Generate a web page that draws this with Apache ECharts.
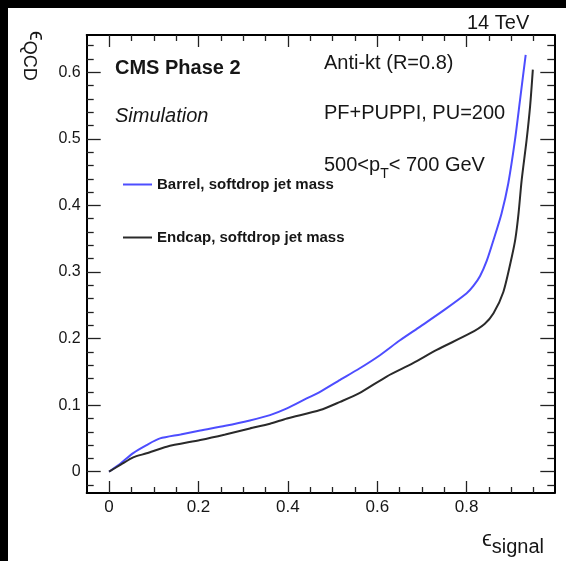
<!DOCTYPE html>
<html>
<head>
<meta charset="utf-8">
<script src="https://cdn.jsdelivr.net/npm/echarts@6/dist/echarts.min.js"></script>
<style>
  html, body { margin: 0; padding: 0; background: #fff; }
  #chart { width: 566px; height: 561px; }
</style>
</head>
<body>
<div id="chart"></div>
<script>
// ROC curves: QCD background efficiency vs signal efficiency
const seriesNames = ['Barrel, softdrop jet mass', 'Endcap, softdrop jet mass'];

const barrelSignalEff = [0, 0.027, 0.054, 0.084, 0.114, 0.16, 0.204, 0.26, 0.315, 0.36, 0.398, 0.442, 0.472, 0.517, 0.56, 0.606, 0.65, 0.696, 0.75, 0.80, 0.815, 0.83, 0.845, 0.86, 0.878, 0.893, 0.908, 0.92, 0.932];
const barrelQcdEff    = [0, 0.013, 0.028, 0.040, 0.050, 0.056, 0.062, 0.069, 0.077, 0.085, 0.095, 0.110, 0.120, 0.138, 0.155, 0.175, 0.197, 0.218, 0.243, 0.268, 0.279, 0.294, 0.317, 0.348, 0.388, 0.433, 0.498, 0.562, 0.626];

const endcapSignalEff = [0, 0.027, 0.054, 0.084, 0.129, 0.204, 0.26, 0.315, 0.36, 0.398, 0.472, 0.517, 0.56, 0.621, 0.68, 0.733, 0.808, 0.84, 0.86, 0.882, 0.901, 0.909, 0.916, 0.923, 0.934, 0.942, 0.948];
const endcapQcdEff    = [0, 0.011, 0.0216, 0.0276, 0.0376, 0.0476, 0.056, 0.065, 0.072, 0.080, 0.0926, 0.105, 0.118, 0.143, 0.163, 0.183, 0.208, 0.222, 0.238, 0.270, 0.323, 0.350, 0.388, 0.438, 0.498, 0.550, 0.604];

const xMajorTicks = [0, 0.2, 0.4, 0.6, 0.8];
const xMinorTicks = [0.05, 0.1, 0.15, 0.25, 0.3, 0.35, 0.45, 0.5, 0.55, 0.65, 0.7, 0.75, 0.85, 0.9, 0.95];
const yMajorTicks = [0, 0.1, 0.2, 0.3, 0.4, 0.5, 0.6];
const yMinorTicks = [-0.02, 0.02, 0.04, 0.06, 0.08, 0.12, 0.14, 0.16, 0.18, 0.22, 0.24, 0.26, 0.28,
                     0.32, 0.34, 0.36, 0.38, 0.42, 0.44, 0.46, 0.48, 0.52, 0.54, 0.56, 0.58, 0.62, 0.64];

const FONT = '"Liberation Sans", Arial, Helvetica, sans-serif';
const INK = '#161616';
const X_RANGE = [-0.05, 0.996];
const Y_RANGE = [-0.032, 0.656];

function pairs(xs, ys) { return xs.map((x, i) => [x, ys[i]]); }
function fmt(v) { return String(Number(v.toFixed(3))); }

function xAxisDef(position, ticks, len, showLine, showLabel) {
  return {
    type: 'value', position: position, min: X_RANGE[0], max: X_RANGE[1],
    splitLine: { show: false },
    axisLine: { show: showLine, onZero: false, lineStyle: { color: '#000', width: 2 } },
    axisTick: { show: true, inside: true, length: len, customValues: ticks, lineStyle: { color: '#222', width: 1.3 } },
    axisLabel: showLabel
      ? { show: true, customValues: ticks, margin: 6, formatter: fmt, fontFamily: FONT, fontSize: 17, color: INK }
      : { show: false }
  };
}
function yAxisDef(position, ticks, len, showLine, showLabel) {
  return {
    type: 'value', position: position, min: Y_RANGE[0], max: Y_RANGE[1],
    splitLine: { show: false },
    axisLine: { show: showLine, onZero: false, lineStyle: { color: '#000', width: 2 } },
    axisTick: { show: true, inside: true, length: len, customValues: ticks, lineStyle: { color: '#222', width: 1.3 } },
    axisLabel: showLabel
      ? { show: true, customValues: ticks, margin: 6, formatter: fmt, fontFamily: FONT, fontSize: 16, color: INK }
      : { show: false }
  };
}

const chart = echarts.init(document.getElementById('chart'), null, { renderer: 'canvas' });

chart.setOption({
  backgroundColor: '#fff',
  animation: false,
  grid: { left: 86.7, right: 11.7, top: 35, bottom: 68, containLabel: false },
  xAxis: [
    xAxisDef('bottom', xMajorTicks, 12, true, true),
    xAxisDef('bottom', xMinorTicks, 6, false, false),
    xAxisDef('top', xMajorTicks, 12, true, false),
    xAxisDef('top', xMinorTicks, 6, false, false)
  ],
  yAxis: [
    yAxisDef('left', yMajorTicks, 14, true, true),
    yAxisDef('left', yMinorTicks, 7, false, false),
    yAxisDef('right', yMajorTicks, 14, true, false),
    yAxisDef('right', yMinorTicks, 7, false, false)
  ],
  legend: {
    orient: 'vertical', left: 118, top: 172, itemGap: 38,
    icon: 'rect', itemWidth: 29, itemHeight: 2,
    textStyle: { fontFamily: FONT, fontWeight: 'bold', fontSize: 15, color: INK, padding: [0, 0, 0, 0] },
    data: seriesNames
  },
  series: [
    {
      name: seriesNames[0], type: 'line', xAxisIndex: 0, yAxisIndex: 0,
      data: pairs(barrelSignalEff, barrelQcdEff),
      showSymbol: false, smooth: 0.25, color: '#4d4dff',
      lineStyle: { color: '#4d4dff', width: 2 }
    },
    {
      name: seriesNames[1], type: 'line', xAxisIndex: 0, yAxisIndex: 0,
      data: pairs(endcapSignalEff, endcapQcdEff),
      showSymbol: false, smooth: 0.25, color: '#2a2a2a',
      lineStyle: { color: '#2a2a2a', width: 2 }
    }
  ],
  graphic: [
    // dark edge strips
    { type: 'rect', shape: { x: 0, y: 0, width: 566, height: 8 }, style: { fill: '#000' }, silent: true },
    { type: 'rect', shape: { x: 0, y: 0, width: 8, height: 561 }, style: { fill: '#000' }, silent: true },
    { type: 'text', x: 115, y: 68, style: { text: 'CMS Phase 2', fontFamily: FONT, fontWeight: 'bold', fontSize: 20, fill: INK, verticalAlign: 'middle' } },
    { type: 'text', x: 115, y: 116, style: { text: 'Simulation', fontFamily: FONT, fontStyle: 'italic', fontSize: 20, fill: INK, verticalAlign: 'middle' } },
    { type: 'text', x: 324, y: 63, style: { text: 'Anti-kt (R=0.8)', fontFamily: FONT, fontSize: 20, fill: INK, verticalAlign: 'middle' } },
    { type: 'text', x: 324, y: 113, style: { text: 'PF+PUPPI, PU=200', fontFamily: FONT, fontSize: 20, fill: INK, verticalAlign: 'middle' } },
    { type: 'text', x: 324, y: 165, style: {
        text: '{m|500<p}{s|T}{m|< 700 GeV}', verticalAlign: 'middle', fill: INK,
        rich: {
          m: { fontFamily: FONT, fontSize: 20, fill: INK },
          s: { fontFamily: FONT, fontSize: 14, fill: INK, padding: [18, 0, 0, 0] }
        } } },
    { type: 'text', x: 467, y: 23, style: { text: '14 TeV', fontFamily: FONT, fontSize: 20, fill: INK, verticalAlign: 'middle' } },
    // axis titles
    { type: 'text', x: 36, y: 31, rotation: -Math.PI / 2, style: {
        text: '{e|ϵ}{s|QCD}', align: 'left', verticalAlign: 'middle', fill: INK,
        rich: {
          e: { fontFamily: FONT, fontSize: 22, fill: INK },
          s: { fontFamily: FONT, fontSize: 18, fill: INK, padding: [15, 0, 0, 0] }
        } } },
    { type: 'text', x: 544, y: 540, style: {
        text: '{e|ϵ}{s|signal}', align: 'right', verticalAlign: 'middle', fill: INK,
        rich: {
          e: { fontFamily: FONT, fontSize: 22, fill: INK },
          s: { fontFamily: FONT, fontSize: 20, fill: INK, padding: [15, 0, 0, 0] }
        } } }
  ]
});
</script>
</body>
</html>
